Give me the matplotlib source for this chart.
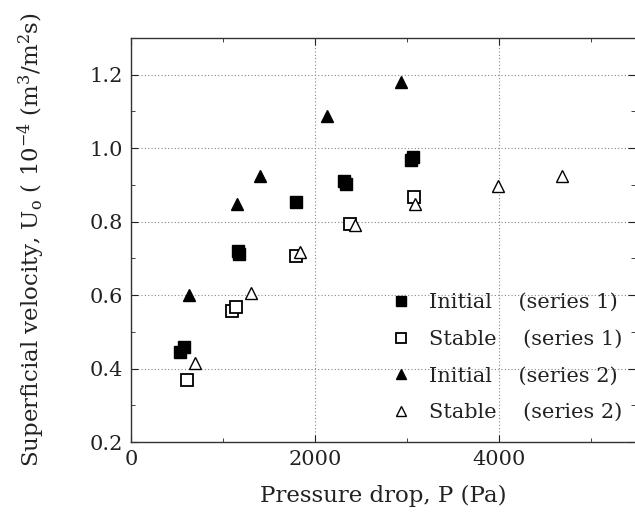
import matplotlib
matplotlib.use("Agg")
import matplotlib.pyplot as plt
from matplotlib.ticker import MultipleLocator, FormatStrFormatter

# Series 1, initial permeation (filled squares)
p_init_1 = [533, 576, 1160, 1175, 1797, 2320, 2340, 3040, 3062]
u_init_1 = [0.446, 0.459, 0.720, 0.713, 0.853, 0.910, 0.903, 0.967, 0.976]

# Series 1, stable (open squares)
p_stab_1 = [612, 1094, 1141, 1790, 2385, 3076]
u_stab_1 = [0.369, 0.557, 0.568, 0.706, 0.793, 0.866]

# Series 2, initial (filled triangles)
p_init_2 = [630, 1155, 1402, 2127, 2935]
u_init_2 = [0.600, 0.847, 0.925, 1.087, 1.180]

# Series 2, stable (open triangles)
p_stab_2 = [696, 1301, 1837, 2435, 3083, 3993, 4681]
u_stab_2 = [0.414, 0.605, 0.718, 0.790, 0.849, 0.897, 0.924]

plt.rcParams['font.family'] = ['DejaVu Serif']
plt.rcParams['mathtext.fontset'] = 'dejavuserif'

txt = '#222222'

fig = plt.figure(figsize=(6.35, 5.21), dpi=100)
ax = fig.add_axes([131 / 635, 79 / 521, 504 / 635, 404 / 521])

ax.plot(p_init_1, u_init_1, 's', color='black', ms=8, label='Initial    (series 1)')
ax.plot(p_stab_1, u_stab_1, 's', mfc='white', mec='black', mew=1.3, ms=8,
        label='Stable    (series 1)')
ax.plot(p_init_2, u_init_2, '^', color='black', ms=8.5, label='Initial    (series 2)')
ax.plot(p_stab_2, u_stab_2, '^', mfc='white', mec='black', mew=1.0, ms=8.5,
        label='Stable    (series 2)')

ax.set_xlim(0, 5478)
ax.set_ylim(0.2, 1.3)
ax.xaxis.set_major_locator(MultipleLocator(2000))
ax.xaxis.set_minor_locator(MultipleLocator(1000))
ax.yaxis.set_major_locator(MultipleLocator(0.2))
ax.yaxis.set_minor_locator(MultipleLocator(0.1))
ax.yaxis.set_major_formatter(FormatStrFormatter('%.1f'))

ax.tick_params(which='both', direction='in', top=True, right=True,
               labelsize=15, colors=txt, pad=6)
ax.tick_params(which='major', length=5, width=0.8)
ax.tick_params(which='minor', length=3, width=0.6)

ax.grid(True, which='major', linestyle=(0, (1, 2)), color='#888888', linewidth=0.8)

for side in ['left', 'bottom', 'top']:
    ax.spines[side].set_color('#333333')
    ax.spines[side].set_linewidth(1.0)
ax.spines['right'].set_visible(False)

ax.set_xlabel('Pressure drop, P (Pa)', fontsize=16.5, labelpad=11, color=txt)
ax.set_ylabel(r'Superficial velocity, U$_\mathrm{o}$ ( 10$^{-4}$ (m$^3$/m$^2$s)',
              fontsize=16.5, labelpad=30, color=txt)

leg = ax.legend(loc='lower right', bbox_to_anchor=(1.0, 0.018), frameon=False,
                fontsize=15, handletextpad=0.75, labelspacing=0.85,
                markerscale=0.85, borderaxespad=0.2, handlelength=1.2)
for t in leg.get_texts():
    t.set_color(txt)

fig.savefig('out.png', dpi=100)
